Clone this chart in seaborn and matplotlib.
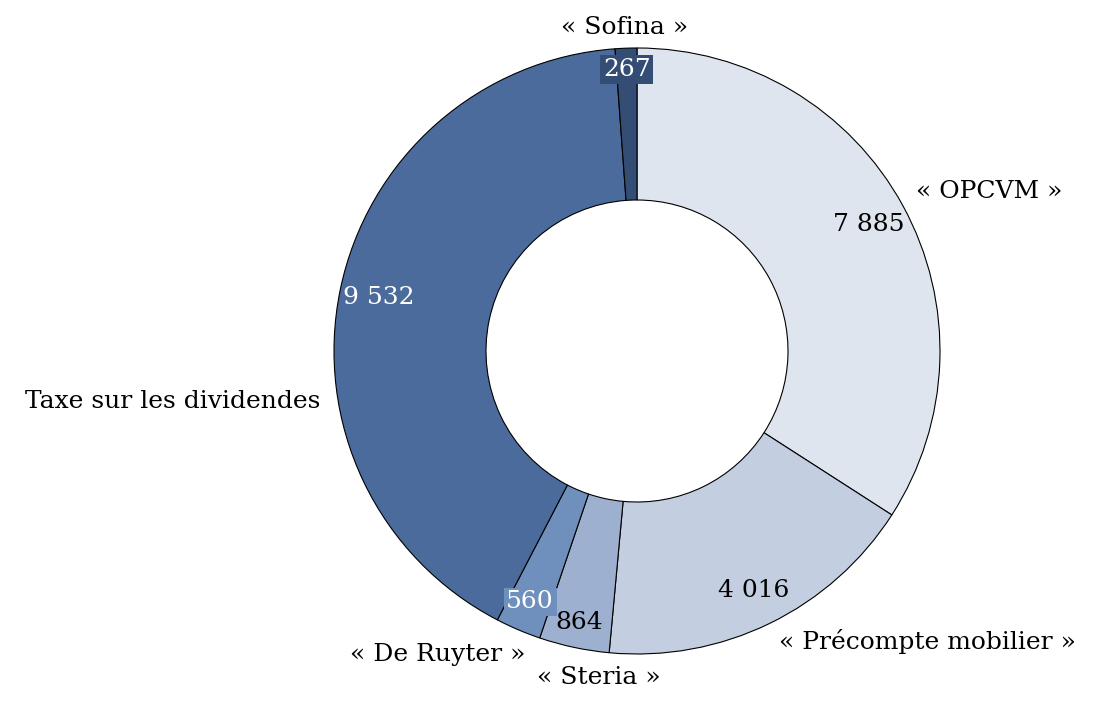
import matplotlib.pyplot as plt
import numpy as np
import seaborn as sns

categories = ["« OPCVM »", "« Précompte mobilier »", "« Steria »",
              "« De Ruyter »", "Taxe sur les dividendes", "« Sofina »"]
values = [7885, 4016, 864, 560, 9532, 267]
value_labels = ["7 885", "4 016", "864", "560", "9 532", "267"]

colors = ["#dfe5ef", "#c3cee0", "#9eb0cf", "#6f8fbd", "#4a6b9b", "#334d74"]
text_colors = ["black", "black", "black", "white", "white", "white"]
boxed = [False, False, False, True, False, True]

sns.set_theme(style="white")
plt.rcParams["font.family"] = ["DejaVu Serif"]

fig = plt.figure(figsize=(10.98, 7.11), dpi=100)
ax = fig.add_axes([0, 0, 1, 1])

R = 303
cx, cy = 0, 0
wedges, _ = ax.pie(values, colors=colors, startangle=90, counterclock=False,
                   radius=R, center=(cx, cy),
                   wedgeprops=dict(width=152, edgecolor="black", linewidth=0.8))

# value labels inside the ring
val_r = [0.87, 0.88, 0.915, 0.90, 0.87, 0.93]
for w, lab, tc, bx, rr in zip(wedges, value_labels, text_colors, boxed, val_r):
    ang = np.deg2rad((w.theta1 + w.theta2) / 2)
    x, y = rr * R * np.cos(ang), rr * R * np.sin(ang)
    kw = {}
    if bx:
        kw["bbox"] = dict(facecolor=w.get_facecolor(), edgecolor="none", pad=2)
    ax.text(x, y, lab, ha="center", va="center", fontsize=18, color=tc, **kw)

# category labels outside (offsets from centre, pixels)
lab_pos = [(279, 159, "left"), (142, -290, "left"), (-38, -327, "center"),
           (-112, -304, "right"), (-317, -51, "right"), (-12, 324, "center")]
for name, (dx, dy, ha) in zip(categories, lab_pos):
    ax.text(cx + dx, cy + dy, name, ha=ha, va="center", fontsize=18, color="black")

ax.set_xlim(-637, 1098 - 637)
ax.set_ylim(-(711 - 351), 351)
ax.set_aspect("equal")
ax.axis("off")

fig.savefig("out.png", dpi=100)
